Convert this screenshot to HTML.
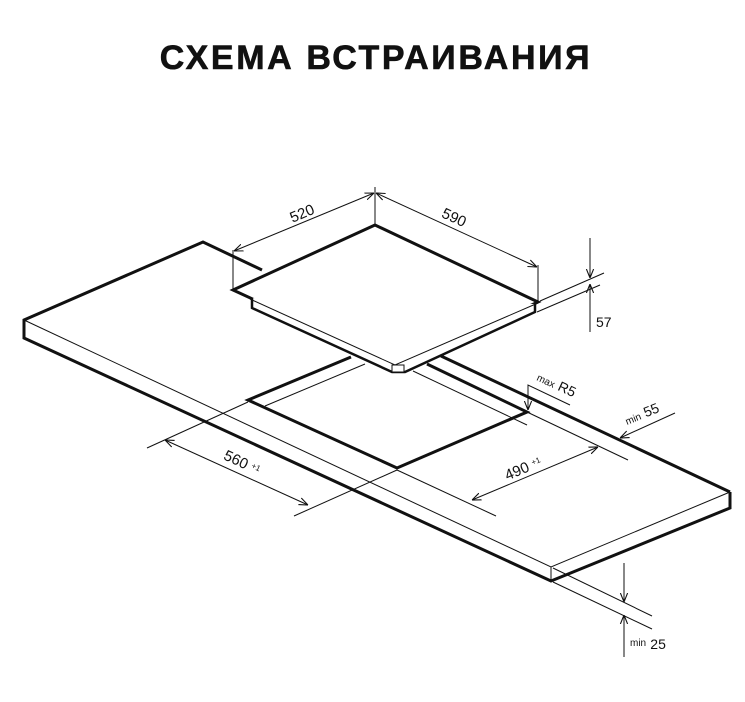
<!DOCTYPE html>
<html><head><meta charset="utf-8"><style>
html,body{margin:0;padding:0;background:#fff;}
svg{display:block;}
text{font-family:"Liberation Sans",sans-serif;fill:#111;}
</style></head><body>
<svg width="745" height="702" viewBox="0 0 745 702" xmlns="http://www.w3.org/2000/svg">
<defs>
<marker id="a" viewBox="0 0 10 10" refX="10" refY="5" markerWidth="9" markerHeight="9" orient="auto-start-reverse" markerUnits="userSpaceOnUse">
<path d="M0,1 L10,5 L0,9" fill="none" stroke="#111" stroke-width="1.2"/>
</marker>
</defs>
<text x="376" y="69" text-anchor="middle" font-size="34" font-weight="bold" letter-spacing="2.6" stroke="#111" stroke-width="0.6">СХЕМА ВСТРАИВАНИЯ</text>

<g fill="none" stroke="#111" stroke-linejoin="miter">
<!-- countertop -->
<polyline points="262,270 203,242 24,320 24,338 551,581 730,508 730,492" stroke-width="3"/>
<line x1="441" y1="356" x2="730" y2="492" stroke-width="3"/>
<polyline points="24,320 551,567 730,492" stroke-width="1"/>
<line x1="551" y1="567" x2="551" y2="581" stroke-width="1"/>
<!-- cutout -->
<polyline points="351,357 248,400 397,468 527,412 427,364" stroke-width="3"/>
<line x1="365" y1="364" x2="265" y2="406" stroke-width="1"/>
<line x1="413" y1="371" x2="527" y2="425" stroke-width="1"/>
<!-- hob -->
<polygon points="375,225 233,290 398,366 538,302" fill="#fff" stroke-width="3"/>
<polyline points="252,298 252,308 392,372 405,372 535,312 535,304" fill="#fff" stroke-width="2.5"/>
<polyline points="250,299 395,365 538,303" stroke-width="1"/>
<rect x="392" y="365" width="12" height="7" stroke-width="1" fill="#fff"/>

<g stroke-width="1">
<!-- 520/590 -->
<line x1="233" y1="250" x2="233" y2="290"/>
<line x1="375" y1="187" x2="375" y2="225"/>
<line x1="538" y1="265" x2="538" y2="302"/>
<line x1="234" y1="251" x2="374" y2="193" marker-start="url(#a)" marker-end="url(#a)"/>
<line x1="376" y1="193" x2="537" y2="267" marker-start="url(#a)" marker-end="url(#a)"/>
<!-- 57 -->
<line x1="540" y1="301" x2="604" y2="273"/>
<line x1="537" y1="312" x2="600" y2="285"/>
<line x1="590" y1="238" x2="590" y2="278" marker-end="url(#a)"/>
<line x1="590" y1="332" x2="590" y2="284" marker-end="url(#a)"/>
<!-- 560 -->
<line x1="248" y1="402" x2="147" y2="448"/>
<line x1="397" y1="470" x2="294" y2="516"/>
<line x1="165" y1="440" x2="308" y2="505" marker-start="url(#a)" marker-end="url(#a)"/>
<!-- 490 -->
<line x1="397" y1="470" x2="496" y2="516"/>
<line x1="527" y1="412" x2="628" y2="460"/>
<line x1="472" y1="500" x2="598" y2="447" marker-start="url(#a)" marker-end="url(#a)"/>
<!-- R5 -->
<polyline points="570,405 528,385 528,410"/>
<line x1="528" y1="402" x2="528" y2="410" marker-end="url(#a)"/>
<!-- min 55 -->
<line x1="675" y1="413" x2="620" y2="438" marker-end="url(#a)"/>
<!-- min 25 -->
<line x1="553" y1="568" x2="652" y2="616"/>
<line x1="553" y1="582" x2="652" y2="629"/>
<line x1="624" y1="563" x2="624" y2="602" marker-end="url(#a)"/>
<line x1="624" y1="657" x2="624" y2="615" marker-end="url(#a)"/>
</g>
</g>

<g font-size="15">
<text transform="translate(304,218) rotate(-23)" text-anchor="middle">520</text>
<text transform="translate(452,222) rotate(25)" text-anchor="middle">590</text>
<text x="596" y="327" font-size="14">57</text>
<text transform="translate(240,467) rotate(25)" text-anchor="middle">560 <tspan font-size="8" dy="-4">+1</tspan></text>
<text transform="translate(525,473) rotate(-23)" text-anchor="middle">490 <tspan font-size="8" dy="-4">+1</tspan></text>
<text transform="translate(536,380) rotate(25)"><tspan font-size="10">max</tspan> <tspan font-size="14">R5</tspan></text>
<text transform="translate(627,425) rotate(-22)"><tspan font-size="10">min</tspan> <tspan font-size="14">55</tspan></text>
<text x="630" y="649"><tspan font-size="10" dy="-3">min</tspan> <tspan font-size="14" dy="3">25</tspan></text>
</g>
</svg>
</body></html>
